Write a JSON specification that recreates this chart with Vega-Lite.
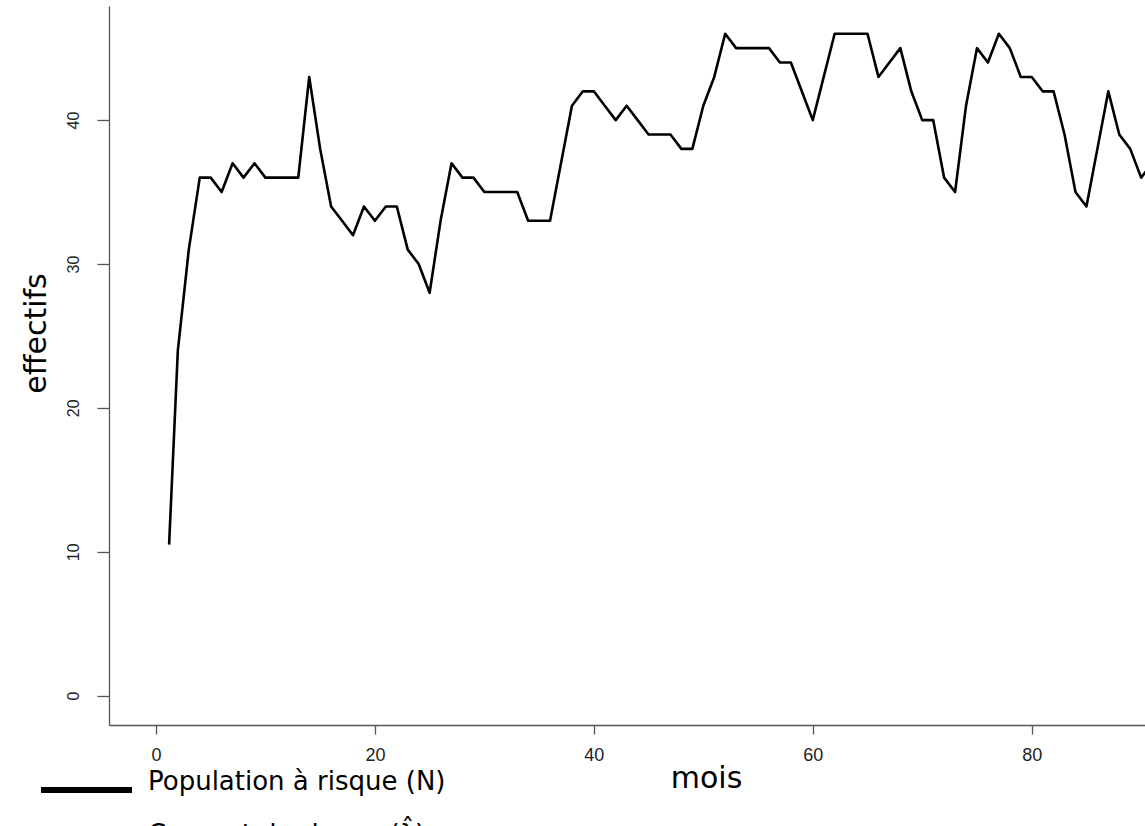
{
  "$schema": "https://vega.github.io/schema/vega-lite/v6.json",
  "width": 1036,
  "height": 719,
  "autosize": {"type": "none"},
  "padding": {"left": 109, "top": 6, "right": 0, "bottom": 101},
  "background": "white",
  "config": {
    "view": {"stroke": null},
    "axis": {"grid": false}
  },
  "data": {
    "values": [
      {"mois": 1.2, "effectifs": 10.5, "serie": "Population à risque (N)"},
      {"mois": 2, "effectifs": 24, "serie": "Population à risque (N)"},
      {"mois": 3, "effectifs": 31, "serie": "Population à risque (N)"},
      {"mois": 4, "effectifs": 36, "serie": "Population à risque (N)"},
      {"mois": 5, "effectifs": 36, "serie": "Population à risque (N)"},
      {"mois": 6, "effectifs": 35, "serie": "Population à risque (N)"},
      {"mois": 7, "effectifs": 37, "serie": "Population à risque (N)"},
      {"mois": 8, "effectifs": 36, "serie": "Population à risque (N)"},
      {"mois": 9, "effectifs": 37, "serie": "Population à risque (N)"},
      {"mois": 10, "effectifs": 36, "serie": "Population à risque (N)"},
      {"mois": 11, "effectifs": 36, "serie": "Population à risque (N)"},
      {"mois": 12, "effectifs": 36, "serie": "Population à risque (N)"},
      {"mois": 13, "effectifs": 36, "serie": "Population à risque (N)"},
      {"mois": 14, "effectifs": 43, "serie": "Population à risque (N)"},
      {"mois": 15, "effectifs": 38, "serie": "Population à risque (N)"},
      {"mois": 16, "effectifs": 34, "serie": "Population à risque (N)"},
      {"mois": 17, "effectifs": 33, "serie": "Population à risque (N)"},
      {"mois": 18, "effectifs": 32, "serie": "Population à risque (N)"},
      {"mois": 19, "effectifs": 34, "serie": "Population à risque (N)"},
      {"mois": 20, "effectifs": 33, "serie": "Population à risque (N)"},
      {"mois": 21, "effectifs": 34, "serie": "Population à risque (N)"},
      {"mois": 22, "effectifs": 34, "serie": "Population à risque (N)"},
      {"mois": 23, "effectifs": 31, "serie": "Population à risque (N)"},
      {"mois": 24, "effectifs": 30, "serie": "Population à risque (N)"},
      {"mois": 25, "effectifs": 28, "serie": "Population à risque (N)"},
      {"mois": 26, "effectifs": 33, "serie": "Population à risque (N)"},
      {"mois": 27, "effectifs": 37, "serie": "Population à risque (N)"},
      {"mois": 28, "effectifs": 36, "serie": "Population à risque (N)"},
      {"mois": 29, "effectifs": 36, "serie": "Population à risque (N)"},
      {"mois": 30, "effectifs": 35, "serie": "Population à risque (N)"},
      {"mois": 31, "effectifs": 35, "serie": "Population à risque (N)"},
      {"mois": 32, "effectifs": 35, "serie": "Population à risque (N)"},
      {"mois": 33, "effectifs": 35, "serie": "Population à risque (N)"},
      {"mois": 34, "effectifs": 33, "serie": "Population à risque (N)"},
      {"mois": 35, "effectifs": 33, "serie": "Population à risque (N)"},
      {"mois": 36, "effectifs": 33, "serie": "Population à risque (N)"},
      {"mois": 37, "effectifs": 37, "serie": "Population à risque (N)"},
      {"mois": 38, "effectifs": 41, "serie": "Population à risque (N)"},
      {"mois": 39, "effectifs": 42, "serie": "Population à risque (N)"},
      {"mois": 40, "effectifs": 42, "serie": "Population à risque (N)"},
      {"mois": 41, "effectifs": 41, "serie": "Population à risque (N)"},
      {"mois": 42, "effectifs": 40, "serie": "Population à risque (N)"},
      {"mois": 43, "effectifs": 41, "serie": "Population à risque (N)"},
      {"mois": 44, "effectifs": 40, "serie": "Population à risque (N)"},
      {"mois": 45, "effectifs": 39, "serie": "Population à risque (N)"},
      {"mois": 46, "effectifs": 39, "serie": "Population à risque (N)"},
      {"mois": 47, "effectifs": 39, "serie": "Population à risque (N)"},
      {"mois": 48, "effectifs": 38, "serie": "Population à risque (N)"},
      {"mois": 49, "effectifs": 38, "serie": "Population à risque (N)"},
      {"mois": 50, "effectifs": 41, "serie": "Population à risque (N)"},
      {"mois": 51, "effectifs": 43, "serie": "Population à risque (N)"},
      {"mois": 52, "effectifs": 46, "serie": "Population à risque (N)"},
      {"mois": 53, "effectifs": 45, "serie": "Population à risque (N)"},
      {"mois": 54, "effectifs": 45, "serie": "Population à risque (N)"},
      {"mois": 55, "effectifs": 45, "serie": "Population à risque (N)"},
      {"mois": 56, "effectifs": 45, "serie": "Population à risque (N)"},
      {"mois": 57, "effectifs": 44, "serie": "Population à risque (N)"},
      {"mois": 58, "effectifs": 44, "serie": "Population à risque (N)"},
      {"mois": 59, "effectifs": 42, "serie": "Population à risque (N)"},
      {"mois": 60, "effectifs": 40, "serie": "Population à risque (N)"},
      {"mois": 61, "effectifs": 43, "serie": "Population à risque (N)"},
      {"mois": 62, "effectifs": 46, "serie": "Population à risque (N)"},
      {"mois": 63, "effectifs": 46, "serie": "Population à risque (N)"},
      {"mois": 64, "effectifs": 46, "serie": "Population à risque (N)"},
      {"mois": 65, "effectifs": 46, "serie": "Population à risque (N)"},
      {"mois": 66, "effectifs": 43, "serie": "Population à risque (N)"},
      {"mois": 67, "effectifs": 44, "serie": "Population à risque (N)"},
      {"mois": 68, "effectifs": 45, "serie": "Population à risque (N)"},
      {"mois": 69, "effectifs": 42, "serie": "Population à risque (N)"},
      {"mois": 70, "effectifs": 40, "serie": "Population à risque (N)"},
      {"mois": 71, "effectifs": 40, "serie": "Population à risque (N)"},
      {"mois": 72, "effectifs": 36, "serie": "Population à risque (N)"},
      {"mois": 73, "effectifs": 35, "serie": "Population à risque (N)"},
      {"mois": 74, "effectifs": 41, "serie": "Population à risque (N)"},
      {"mois": 75, "effectifs": 45, "serie": "Population à risque (N)"},
      {"mois": 76, "effectifs": 44, "serie": "Population à risque (N)"},
      {"mois": 77, "effectifs": 46, "serie": "Population à risque (N)"},
      {"mois": 78, "effectifs": 45, "serie": "Population à risque (N)"},
      {"mois": 79, "effectifs": 43, "serie": "Population à risque (N)"},
      {"mois": 80, "effectifs": 43, "serie": "Population à risque (N)"},
      {"mois": 81, "effectifs": 42, "serie": "Population à risque (N)"},
      {"mois": 82, "effectifs": 42, "serie": "Population à risque (N)"},
      {"mois": 83, "effectifs": 39, "serie": "Population à risque (N)"},
      {"mois": 84, "effectifs": 35, "serie": "Population à risque (N)"},
      {"mois": 85, "effectifs": 34, "serie": "Population à risque (N)"},
      {"mois": 86, "effectifs": 38, "serie": "Population à risque (N)"},
      {"mois": 87, "effectifs": 42, "serie": "Population à risque (N)"},
      {"mois": 88, "effectifs": 39, "serie": "Population à risque (N)"},
      {"mois": 89, "effectifs": 38, "serie": "Population à risque (N)"},
      {"mois": 90, "effectifs": 36, "serie": "Population à risque (N)"},
      {"mois": 91, "effectifs": 37, "serie": "Population à risque (N)"}
    ]
  },
  "mark": {"type": "line", "strokeWidth": 2.6, "strokeJoin": "round", "clip": true},
  "encoding": {
    "x": {
      "field": "mois",
      "type": "quantitative",
      "scale": {"domain": [-4.29, 90.35], "nice": false, "zero": false},
      "axis": {
        "title": "mois",
        "values": [0, 20, 40, 60, 80],
        "domainColor": "#555555",
        "domainWidth": 1.3,
        "tickColor": "#555555",
        "tickWidth": 1.3,
        "tickSize": 9,
        "labelFont": "Liberation Sans",
        "labelFontSize": 18,
        "labelColor": "#222222",
        "labelBaseline": "alphabetic",
        "labelPadding": 26,
        "labelFlush": false,
        "labelOverlap": false,
        "titleFont": "DejaVu Sans",
        "titleFontSize": 30,
        "titleFontWeight": "normal",
        "titleColor": "black",
        "titleX": 597,
        "titleY": 62,
        "titleAlign": "center",
        "titleBaseline": "alphabetic"
      }
    },
    "y": {
      "field": "effectifs",
      "type": "quantitative",
      "scale": {"domain": [-2.04, 47.93], "nice": false, "zero": false},
      "axis": {
        "title": "effectifs",
        "values": [0, 10, 20, 30, 40],
        "domainColor": "#555555",
        "domainWidth": 1.3,
        "tickColor": "#555555",
        "tickWidth": 1.3,
        "tickSize": 12,
        "labelFont": "Liberation Sans",
        "labelFontSize": 16,
        "labelColor": "#222222",
        "labelAngle": -90,
        "labelAlign": "center",
        "labelBaseline": "alphabetic",
        "labelPadding": 19,
        "labelFlush": false,
        "labelOverlap": false,
        "titleFont": "DejaVu Sans",
        "titleFontSize": 30,
        "titleFontWeight": "normal",
        "titleColor": "black",
        "titleAngle": -90,
        "titleX": -64,
        "titleY": 327,
        "titleAlign": "center",
        "titleBaseline": "alphabetic"
      }
    },
    "color": {
      "field": "serie",
      "type": "nominal",
      "scale": {
        "domain": ["Population à risque (N)", "Courant de risque (λ̂)"],
        "range": ["black", "#888888"]
      },
      "legend": {
        "title": null,
        "orient": "none",
        "legendX": -71,
        "legendY": 771,
        "direction": "vertical",
        "padding": 0,
        "offset": 0,
        "symbolType": "stroke",
        "symbolSize": 8281,
        "symbolStrokeWidth": 6,
        "symbolStrokeColor": "black",
        "clipHeight": 26,
        "rowPadding": 19,
        "labelOffset": 13,
        "labelFont": "DejaVu Sans",
        "labelFontSize": 26,
        "labelColor": "black",
        "labelBaseline": "alphabetic",
        "labelLimit": 0
      }
    }
  }
}
